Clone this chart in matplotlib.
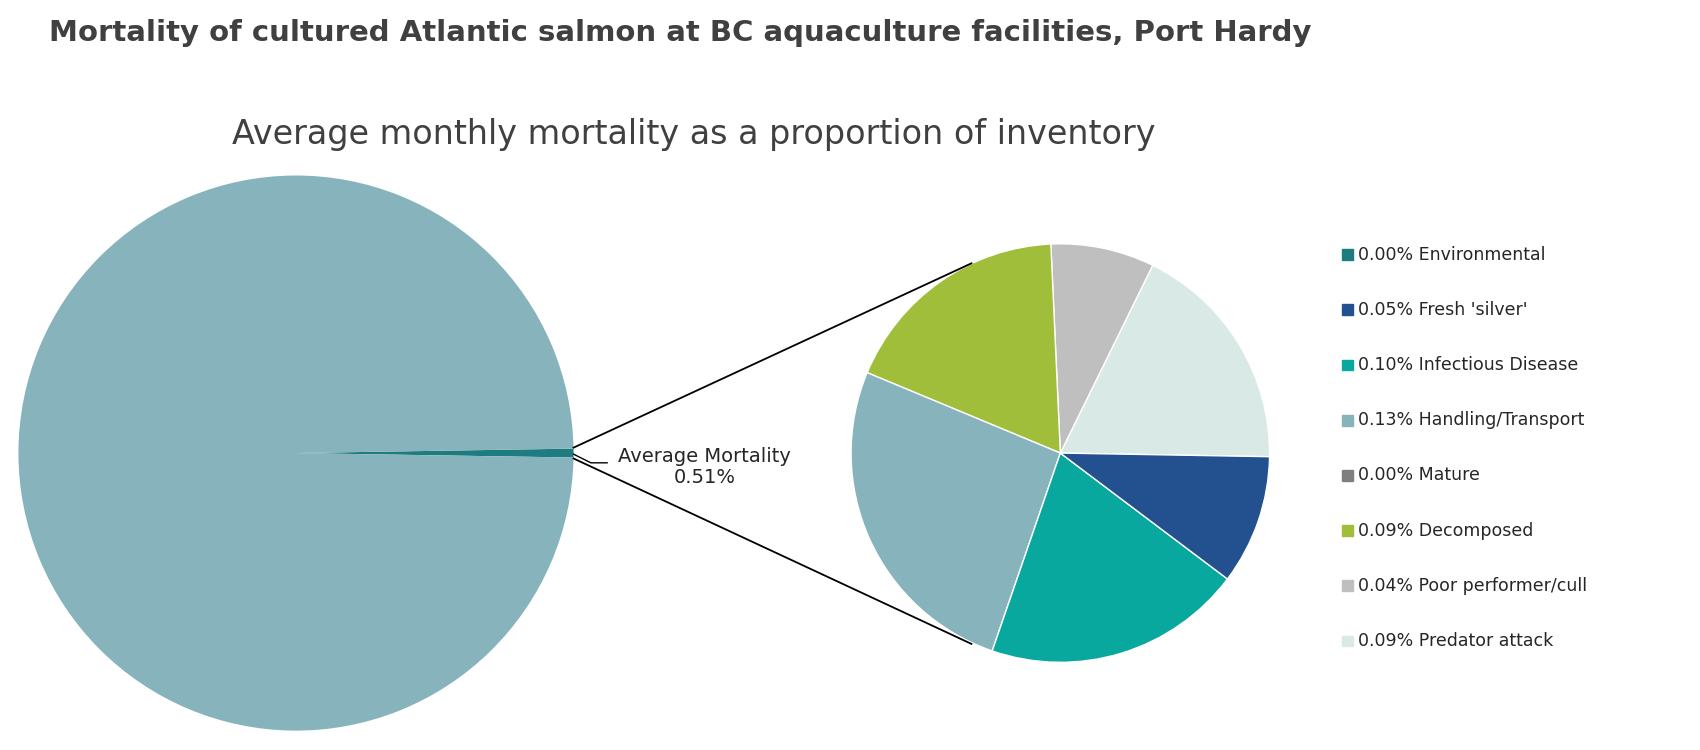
import matplotlib
matplotlib.use("Agg")
import matplotlib.pyplot as plt

categories = ["Environmental", "Fresh 'silver'", "Infectious Disease", "Handling/Transport",
              "Mature", "Decomposed", "Poor performer/cull", "Predator attack"]
values = [0.00, 0.05, 0.10, 0.13, 0.00, 0.09, 0.04, 0.09]
labels = ["0.00%", "0.05%", "0.10%", "0.13%", "0.00%", "0.09%", "0.04%", "0.09%"]
colors = ["#1E7B7F", "#23508F", "#08A89E", "#87B4BC", "#7F7F7F", "#A0BE3A", "#BFBFBF", "#D9EAE6"]
total_mortality = 0.51

W, H = 1568, 690
fig = plt.figure(figsize=(17, 7.5), dpi=100)
ax = fig.add_axes([0, 0, 1, 1])
ax.set_xlim(0, W); ax.set_ylim(0, H); ax.set_aspect('equal'); ax.axis('off')
Y = lambda y: H - y

# big pie
ax.pie([total_mortality, 100 - total_mortality], colors=["#1E7B7F", "#87B4BC"],
       startangle=-total_mortality * 3.6 / 2, center=(273, Y(417)), radius=256,
       wedgeprops=dict(linewidth=0), frame=True)
# small pie: counterclockwise from right: reverse order of legend
sv = [v for v in values[::-1] if v > 0]
sc = [c for v, c in zip(values[::-1], colors[::-1]) if v > 0]
ax.pie(sv, colors=sc, startangle=-1, center=(978, Y(417)), radius=193,
       wedgeprops=dict(linewidth=1, edgecolor='white'), frame=True)
ax.set_xlim(0, W); ax.set_ylim(0, H); ax.set_aspect('equal'); ax.axis('off')

ax.plot([529, 896], [Y(412), Y(242)], color='black', lw=1.3)
ax.plot([529, 422 and 529], [Y(422), Y(422)], color='black', lw=0)
ax.plot([529, 896], [Y(422), Y(593)], color='black', lw=1.3)
ax.plot([529, 545, 560], [Y(418), Y(426), Y(426)], color='black', lw=1)
ax.text(650, Y(430), "Average Mortality\n%.2f%%" % total_mortality, ha='center', va='center',
        fontsize=14, color='#262626', linespacing=1.1)

for i, (c, l, cat) in enumerate(zip(colors, labels, categories)):
    y = Y(234 + i * 50.9)
    ax.add_patch(plt.Rectangle((1238, y - 5), 10, 10, color=c))
    ax.text(1253, y, f"{l} {cat}", va='center', fontsize=12.5, color='#262626')

fig.text(45 / W, 1 - 30 / H, "Mortality of cultured Atlantic salmon at BC aquaculture facilities, Port Hardy",
         fontsize=21, fontweight='bold', color='#404040', va='center')
fig.text(640 / W, 1 - 124 / H, "Average monthly mortality as a proportion of inventory",
         fontsize=24, color='#404040', ha='center', va='center')
fig.savefig("out.png", dpi=100)
